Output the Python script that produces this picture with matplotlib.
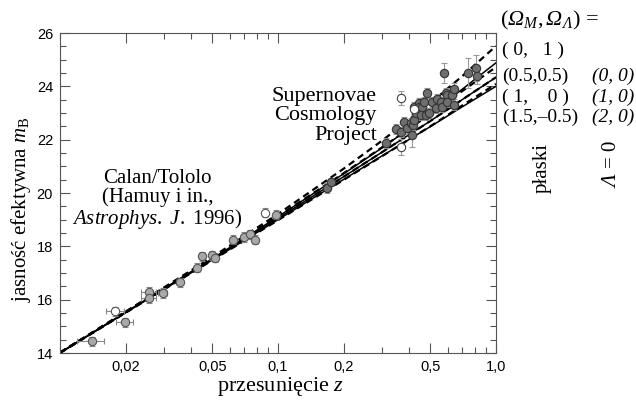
import matplotlib
matplotlib.use("Agg")
import matplotlib.pyplot as plt
from matplotlib.ticker import FixedLocator, FixedFormatter, LogLocator, MultipleLocator, NullFormatter

plt.rcParams['mathtext.fontset'] = 'custom'
plt.rcParams['mathtext.rm'] = 'Liberation Serif'
plt.rcParams['mathtext.it'] = 'Liberation Serif:italic'
plt.rcParams['mathtext.cal'] = 'Liberation Serif:italic'

# Calan/Tololo (niskie z)
z_ct = [0.0140, 0.0179, 0.0198, 0.0255, 0.0255, 0.0296, 0.0354, 0.0424, 0.0447,
        0.0496, 0.0512, 0.0619, 0.0695, 0.0741, 0.0781, 0.0868, 0.0984]
m_ct = [14.44, 15.57, 15.16, 16.29, 16.06, 16.25, 16.66, 17.19, 17.63,
        17.67, 17.57, 18.24, 18.35, 18.46, 18.24, 19.26, 19.18]
zerr_ct = [0.0020, 0.0017, 0.0018, 0.0020, 0.0020, 0.0015, 0.0012, 0.0012, 0.0015,
           0.0012, 0.0012, 0.0008, 0.0008, 0.0008, 0.0008, 0.0008, 0.0008]
merr_ct = [0.17, 0.17, 0.17, 0.18, 0.17, 0.17, 0.17, 0.17, 0.17,
           0.17, 0.17, 0.17, 0.17, 0.17, 0.17, 0.17, 0.17]
open_ct = [False, True, False, False, False, False, False, False, False,
           False, False, False, False, False, False, True, False]

# Supernova Cosmology Project (wysokie z)
z_scp = [0.168, 0.176, 0.314, 0.349, 0.367, 0.379, 0.391, 0.408, 0.413, 0.417,
         0.421, 0.422, 0.430, 0.444, 0.445, 0.454, 0.454, 0.459, 0.468, 0.478,
         0.483, 0.494, 0.509, 0.531, 0.537, 0.560, 0.566, 0.578, 0.590, 0.597,
         0.597, 0.629, 0.642, 0.642, 0.745, 0.810, 0.818]
m_scp = [20.19, 20.41, 21.87, 22.40, 22.29, 22.66, 22.43, 22.63, 22.18, 22.55,
         22.74, 23.23, 23.00, 23.37, 23.23, 23.12, 22.92, 23.23, 23.41, 22.92,
         23.75, 23.00, 23.41, 23.19, 23.52, 23.41, 23.23, 24.50, 23.75, 23.68,
         23.41, 23.68, 23.91, 23.31, 24.50, 24.69, 24.39]
merr_scp = [0.20, 0.15, 0.20, 0.20, 0.20, 0.20, 0.20, 0.20, 0.45, 0.20,
            0.20, 0.20, 0.20, 0.20, 0.20, 0.20, 0.20, 0.20, 0.20, 0.20,
            0.20, 0.20, 0.20, 0.20, 0.20, 0.20, 0.20, 0.38, 0.20, 0.20,
            0.20, 0.20, 0.20, 0.20, 0.55, 0.50, 0.30]
z_scp_open = [0.367, 0.367, 0.421]
m_scp_open = [23.56, 21.73, 23.15]
merr_scp_open = [0.27, 0.29, 0.20]

# krzywe modeli (Omega_M, Omega_Lambda)
z_model = [0.01, 0.02, 0.05, 0.1, 0.2, 0.3, 0.5, 0.7, 1.0]
m_0_1 = [14.02, 15.55, 17.60, 19.21, 20.91, 21.96, 23.37, 24.38, 25.51]
m_05_05 = [14.01, 15.54, 17.55, 19.13, 20.74, 21.71, 22.96, 23.82, 24.72]
m_1_0 = [14.01, 15.52, 17.52, 19.05, 20.61, 21.53, 22.70, 23.50, 24.34]
m_15_m05 = [14.00, 15.51, 17.48, 18.98, 20.49, 21.38, 22.50, 23.28, 24.09]
m_0_0 = [14.01, 15.53, 17.54, 19.11, 20.72, 21.69, 22.98, 23.89, 24.88]
m_2_0 = [14.00, 15.51, 17.49, 19.00, 20.51, 21.39, 22.49, 23.23, 24.00]

x_ticks = [0.02, 0.05, 0.1, 0.2, 0.5, 1.0]
x_tick_labels = ['0,02', '0,05', '0,1', '0,2', '0,5', '1,0']

fig = plt.figure(figsize=(6.36, 4.01), dpi=100)
ax = fig.add_axes([0.0943, 0.1197, 0.6855, 0.798])

# modele płaskie - przerywane, Lambda = 0 - ciągłe
for m in [m_0_1, m_05_05, m_1_0, m_15_m05]:
    ax.plot(z_model, m, color='black', lw=1.6, ls=(0, (3, 2)), zorder=2)
for m in [m_0_0, m_1_0, m_2_0]:
    ax.plot(z_model, m, color='black', lw=1.1, ls='-', zorder=2)

# punkty pomiarowe
for z, m, ze, me, op in zip(z_ct, m_ct, zerr_ct, merr_ct, open_ct):
    ax.errorbar(z, m, xerr=ze, yerr=me, fmt='o', ms=6,
                mfc='white' if op else '#a8a8a8', mec='#555555', mew=0.8,
                ecolor='#888888', elinewidth=0.8, capsize=2, zorder=3)
ax.errorbar(z_scp, m_scp, yerr=merr_scp, fmt='o', ms=6, mfc='#6e6e6e',
            mec='#333333', mew=0.8, ecolor='#999999', elinewidth=0.8,
            capsize=2, zorder=3)
ax.errorbar(z_scp_open, m_scp_open, yerr=merr_scp_open, fmt='o', ms=6,
            mfc='white', mec='#444444', mew=0.8, ecolor='#999999',
            elinewidth=0.8, capsize=2, zorder=3)

ax.set_xscale('log')
ax.set_xlim(0.01, 1.0)
ax.set_ylim(14, 26)
ax.xaxis.set_major_locator(FixedLocator(x_ticks))
ax.xaxis.set_major_formatter(FixedFormatter(x_tick_labels))
ax.xaxis.set_minor_locator(LogLocator(base=10, subs=[1, 2, 3, 4, 5, 6, 7, 8, 9]))
ax.xaxis.set_minor_formatter(NullFormatter())
ax.yaxis.set_major_locator(MultipleLocator(2))
ax.yaxis.set_minor_locator(MultipleLocator(0.5))
ax.tick_params(which='both', direction='in', top=True, right=True,
               color='#555555', width=0.8)
ax.tick_params(which='major', length=7, labelsize=10.5, pad=5)
ax.tick_params(which='minor', length=4)
for lab in ax.get_xticklabels() + ax.get_yticklabels():
    lab.set_fontfamily('Liberation Sans')
for s in ax.spines.values():
    s.set_color('#555555')
    s.set_linewidth(0.8)

ax.set_xlabel('przesunięcie $z$', family='Liberation Serif', fontsize=16)
ax.set_ylabel(r'jasność efektywna $m_\mathrm{B}$', family='Liberation Serif',
              fontsize=15)
ax.xaxis.set_label_coords(0.505, -0.068)
ax.yaxis.set_label_coords(-0.062, 0.45)

ax.text(0.284, 22.89, 'Supernovae\nCosmology\nProject', family='Liberation Serif',
        fontsize=16, ha='right', va='center', linespacing=1.05)
ax.text(0.028, 19.74, 'Calan/Tololo\n(Hamuy i in.,\n' + r'$\mathit{Astrophys.\ J.}$ 1996)',
        family='Liberation Serif', fontsize=15, ha='center', va='center',
        linespacing=1.0)

# opis modeli po prawej
fig.text(0.786, 1 - 20 / 401, r'$(\mathcal{Ω}_M,\mathcal{Ω}_\mathcal{Λ})$ =',
         family='Liberation Serif', fontsize=16, va='center')
left_col = ['( 0,   1 )', '(0.5,0.5)', '( 1,    0 )', '(1.5,–0.5)']
left_y = [50, 76, 97, 117]
right_col = ['(0, 0)', '(1, 0)', '(2, 0)']
right_y = [76, 97, 117]
for t, y in zip(left_col, left_y):
    fig.text(0.789, 1 - y / 401, t, family='Liberation Serif',
             fontsize=14, va='center')
for t, y in zip(right_col, right_y):
    fig.text(0.931, 1 - y / 401, t, family='Liberation Serif',
             fontsize=14, style='italic', va='center')
fig.text(0.852, 1 - 168 / 401, 'płaski', family='Liberation Serif', fontsize=15,
         rotation=90, ha='center', va='center')
fig.text(0.962, 1 - 164 / 401, r'$\mathcal{Λ}$ = 0', family='Liberation Serif',
         fontsize=15, rotation=90, ha='center', va='center')

fig.savefig('out.png', dpi=100)
